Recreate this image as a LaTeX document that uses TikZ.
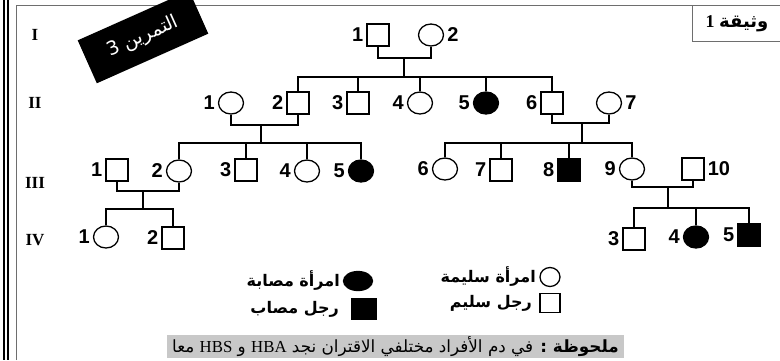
\documentclass[tikz,border=0pt]{standalone}
\usepackage{fontspec}
\setmainfont{Liberation Serif}
\newfontfamily\numfont{Liberation Sans}
\newfontfamily\arabicfont[Script=Arabic]{DejaVu Sans}
\TeXXeTstate=1
\usetikzlibrary{shapes.geometric}
\definecolor{notegray}{RGB}{200,200,200}
\definecolor{framegray}{RGB}{110,110,110}
\begin{document}
\begin{tikzpicture}[x=1pt,y=-1pt,
  sq/.style={draw, rectangle, minimum width=22pt, minimum height=22pt, inner sep=0pt, line width=1.3pt},
  ci/.style={draw, ellipse, minimum width=25pt, minimum height=22pt, inner sep=0pt, line width=1.3pt},
  aff/.style={fill=black},
  lnk/.style={line width=1.1pt},
  num/.style={font=\numfont\bfseries\fontsize{20}{20}\selectfont, inner sep=0pt, label distance=3pt},
  gen/.style={font=\bfseries\fontsize{17}{17}\selectfont, inner sep=0pt},
  leg/.style={font=\arabicfont\bfseries\fontsize{16}{16}\selectfont, inner sep=0pt},
  nums/.style={label={[num]left:#1}},
  numr/.style={label={[num]right:#1}}]
\useasboundingbox (0,0) rectangle (780,360);
% frame
\draw[line width=1.5pt] (4,0) -- (4,360);
\draw[line width=1.5pt] (8,0) -- (8,360);
\draw[framegray, line width=0.9pt] (16.5,360) -- (16.5,5) -- (780,5);
\draw[framegray, line width=0.9pt] (692,5) -- (692,41) -- (780,41);
\node[font=\fontsize{18}{18}\selectfont] (doc) at (737,24) {\beginR{\arabicfont\bfseries وثيقة} \textbf{1}\endR};
% exercise tag
\node[fill=black, text=white, rotate=24, minimum width=122pt, minimum height=47pt, inner sep=0pt,
  font=\arabicfont\fontsize{19}{19}\selectfont] (ex) at (143,37) {\beginR التمرين 3\endR};
% generation labels
\node[gen] (gI) at (35,35) {I};
\node[gen] (gII) at (35,103) {II};
\node[gen] (gIII) at (35,183) {III};
\node[gen] (gIV) at (35,240) {IV};
% generation I
\node[sq, nums=1] (I1) at (378,35) {};
\node[ci, numr=2] (I2) at (431,35) {};
% generation II
\node[ci, nums=1] (II1) at (231,103) {};
\node[sq, nums=2] (II2) at (298,103) {};
\node[sq, nums=3] (II3) at (358,103) {};
\node[ci, nums=4] (II4) at (420,103) {};
\node[ci, aff, nums=5] (II5) at (486,103) {};
\node[sq, nums=6] (II6) at (552,103) {};
\node[ci, numr=7] (II7) at (609,103) {};
% generation III
\node[sq, nums=1] (III1) at (117,170) {};
\node[ci, nums=2] (III2) at (179,171) {};
\node[sq, nums=3] (III3) at (246,170) {};
\node[ci, nums=4] (III4) at (307,171) {};
\node[ci, aff, nums=5] (III5) at (361,171) {};
\node[ci, nums=6] (III6) at (445,169) {};
\node[sq, nums=7] (III7) at (501,170) {};
\node[sq, aff, nums=8] (III8) at (569,170) {};
\node[ci, nums=9] (III9) at (632,169) {};
\node[sq, numr=10] (III10) at (693,169) {};
% generation IV
\node[ci, nums=1] (IV1) at (106,237) {};
\node[sq, nums=2] (IV2) at (173,238) {};
\node[sq, nums=3] (IV3) at (634,239) {};
\node[ci, aff, nums=4] (IV4) at (696,237) {};
\node[sq, aff, nums=5] (IV5) at (749,235) {};
% couple / sibling coordinates
\coordinate (c1) at (404,58);  \coordinate (s1) at (404,77);
\coordinate (c2) at (261,125); \coordinate (s2) at (261,143);
\coordinate (c3) at (582,123); \coordinate (s3) at (582,143);
\coordinate (c4) at (143,191); \coordinate (s4) at (143,209);
\coordinate (c5) at (668,187); \coordinate (s5) at (668,208);
% family I
\draw[lnk] (I1.south) |- (c1) -| (I2.south);
\draw[lnk] (c1) -- (s1);
\draw[lnk] (II2.north) |- (s1) -| (II6.north);
\foreach \n in {II3,II4,II5} \draw[lnk] (\n.north) -- (\n.north |- s1);
% family II1-II2
\draw[lnk] (II1.south) |- (c2) -| (II2.south);
\draw[lnk] (c2) -- (s2);
\draw[lnk] (III2.north) |- (s2) -| (III5.north);
\foreach \n in {III3,III4} \draw[lnk] (\n.north) -- (\n.north |- s2);
% family II6-II7
\draw[lnk] (II6.south) |- (c3) -| (II7.south);
\draw[lnk] (c3) -- (s3);
\draw[lnk] (III6.north) |- (s3) -| (III9.north);
\foreach \n in {III7,III8} \draw[lnk] (\n.north) -- (\n.north |- s3);
% family III1-III2
\draw[lnk] (III1.south) |- (c4) -| (III2.south);
\draw[lnk] (c4) -- (s4);
\draw[lnk] (IV1.north) |- (s4) -| (IV2.north);
% family III9-III10
\draw[lnk] (III9.south) |- (c5) -| (III10.south);
\draw[lnk] (c5) -- (s5);
\draw[lnk] (IV3.north) |- (s5) -| (IV5.north);
\draw[lnk] (IV4.north) -- (IV4.north |- s5);
% legend
\node[ci, aff, minimum width=29pt, minimum height=19pt] (Lfc) at (358,281) {};
\node[sq, aff, minimum width=24pt, minimum height=21pt] (Lfs) at (364,309) {};
\node[ci, minimum width=20pt, minimum height=19pt] (Lc) at (550,277) {};
\node[sq, minimum width=20pt, minimum height=19pt] (Ls) at (550,303) {};
\node[leg, anchor=east] (t1) at (340,281) {\beginR امرأة مصابة\endR};
\node[leg, anchor=east] (t2) at (339,309) {\beginR رجل مصاب\endR};
\node[leg, anchor=east] (t3) at (536,277) {\beginR امرأة سليمة\endR};
\node[leg, anchor=east] (t4) at (532,303) {\beginR رجل سليم\endR};
% note
\node[fill=notegray, minimum width=457pt, minimum height=23pt, inner sep=0pt,
  font=\arabicfont\fontsize{16.8}{16.8}\selectfont] (note) at (395.5,346.5)
  {\beginR{\bfseries ملحوظة :} في دم الأفراد مختلفي الاقتران نجد \beginL{\rmfamily HBA}\endL{} و \beginL{\rmfamily HBS}\endL{} معا\endR};
\end{tikzpicture}
\end{document}
